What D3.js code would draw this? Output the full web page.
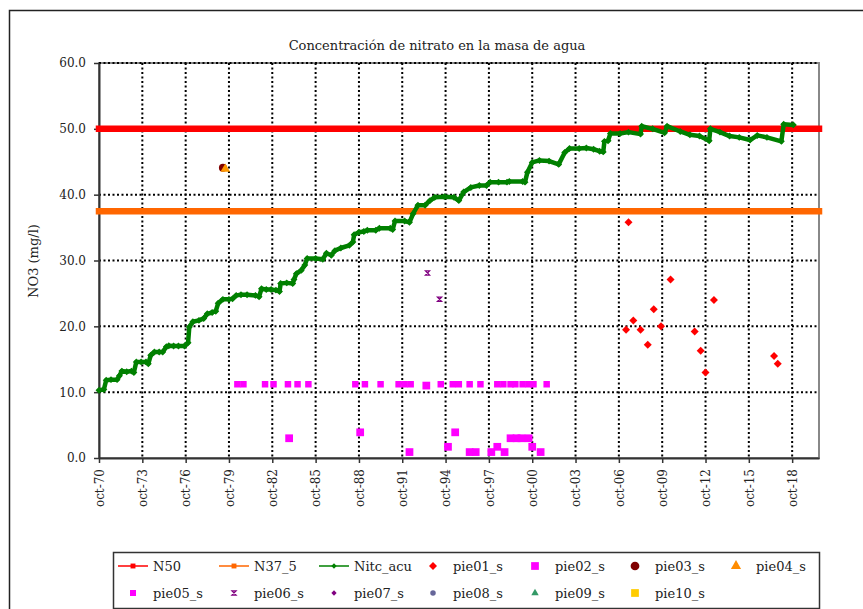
<html>
<head>
  <meta charset="utf-8">
  <title>Concentración de nitrato en la masa de agua</title>
  <script src="https://cdn.jsdelivr.net/npm/d3@7"></script>
  <style>
    body { margin: 0; background: #fff; }
    text { font-family: "DejaVu Serif", serif; fill: #222; }
  </style>
</head>
<body>
<script>

// ---- data ----
var nitcDates = ["1970-10","1971-02","1971-04","1971-08","1972-01","1972-03","1972-05","1972-09","1973-01","1973-03",
  "1973-05","1973-09","1974-01","1974-03","1974-05","1974-08","1974-12","1975-03","1975-06","1975-08",
  "1975-12","1976-04","1976-09","1976-12","1977-01","1977-04","1977-09","1978-01","1978-04","1978-08",
  "1978-11","1979-01","1979-05","1979-10","1980-01","1980-04","1980-08","1981-01","1981-08","1981-11",
  "1982-01","1982-05","1982-09","1983-01","1983-04","1983-05","1983-10","1984-03","1984-04","1984-06",
  "1984-10","1985-01","1985-03","1985-10","1986-04","1986-07","1986-11","1987-02","1987-07","1988-02",
  "1988-05","1988-06","1988-10","1989-02","1989-05","1989-12","1990-03","1990-12","1991-02","1991-04",
  "1991-12","1992-04","1992-07","1992-11","1993-05","1993-09","1994-01","1994-09","1995-05","1995-09",
  "1996-01","1996-07","1997-02","1997-08","1997-11","1998-06","1999-01","1999-03","2000-02","2000-04",
  "2000-06","2000-10","2001-04","2001-12","2002-08","2003-01","2003-05","2004-01","2004-07","2005-01",
  "2005-06","2005-09","2005-10","2006-01","2006-03","2006-11","2007-06","2008-04","2008-05","2009-02",
  "2009-12","2010-02","2011-01","2011-09","2012-05","2013-01","2013-02","2013-10","2014-06","2015-02",
  "2015-11","2016-05","2017-01","2018-01","2018-03","2018-11"];
var nitcValues = [10.3,10.4,11.8,11.9,11.9,12.5,13.2,13.1,13.2,13.0,
  14.6,14.6,14.6,14.3,15.6,16.1,16.1,16.1,16.9,17.05,
  17.0,17.0,17.0,17.5,19.9,20.7,20.9,21.2,21.9,22.1,
  22.3,23.5,24.1,24.1,24.2,24.7,24.8,24.8,24.7,24.5,
  25.7,25.6,25.6,25.5,25.3,26.5,26.6,26.5,27.1,28.0,
  28.5,29.3,30.3,30.3,30.2,31.1,30.8,31.5,31.9,32.3,
  32.8,33.9,34.3,34.4,34.6,34.6,34.9,34.9,34.7,36.0,
  36.0,35.8,37.1,38.4,38.4,39.1,39.6,39.7,39.6,39.1,
  40.4,41.1,41.4,41.4,41.9,41.9,41.9,42.0,42.0,41.9,
  43.4,44.9,45.2,45.1,44.6,46.4,47.0,47.0,47.1,46.9,
  46.6,46.5,48.1,48.2,49.3,49.3,49.5,49.2,50.4,50.0,
  49.4,50.4,49.6,49.1,48.9,48.2,50.0,49.5,48.9,48.7,
  48.3,49.0,48.7,48.1,50.7,50.6];

var n50Value = 50;
var n37Value = 37.5;

var pie01Dates = ["2007-04","2007-06","2007-10","2008-04","2008-10","2009-03","2009-09","2010-05","2012-01","2012-06","2012-10","2013-05","2017-07","2017-10"];
var pie01Values = [19.5,35.8,20.9,19.5,17.2,22.6,20.0,27.1,19.2,16.3,13.0,24.0,15.5,14.3];

var pie02Dates = ["1983-12","1988-11","1992-04","1993-06","1994-12","1995-06","1996-06","1996-11","1997-12","1998-05","1998-11","1999-04","1999-09","2000-01","2000-07","2000-10","2001-05"];
var pie02Values = [3.0,3.9,0.9,11.0,1.7,3.9,0.9,0.9,0.9,1.7,0.9,3.0,3.0,3.0,3.0,1.7,0.9];

var pie03Dates = ["1979-05"];
var pie03Values = [44.1];
var pie04Dates = ["1979-07"];
var pie04Values = [43.9];

var pie05Dates = ["1980-05","1980-10","1982-04","1982-11","1983-11","1984-07","1985-04","1988-07","1989-03","1990-04",
  "1991-07","1991-12","1992-05","1994-06","1995-04","1995-09","1996-06","1997-03","1998-05","1998-10",
  "1999-04","1999-08","2000-02","2000-07","2000-11","2001-10"];
var pie05Values = [11.2,11.2,11.2,11.2,11.2,11.2,11.2,11.2,11.2,11.2,
  11.2,11.2,11.2,11.2,11.2,11.2,11.2,11.2,11.2,11.2,
  11.2,11.2,11.2,11.2,11.2,11.2];

var pie06Dates = ["1993-07","1994-05"];
var pie06Values = [28.1,24.1];

var tickYears = [1970,1973,1976,1979,1982,1985,1988,1991,1994,1997,2000,2003,2006,2009,2012,2015,2018];
var yTicks = [0,10,20,30,40,50,60];

var legendNames = ["N50","N37_5","Nitc_acu","pie01_s","pie02_s","pie03_s","pie04_s",
                   "pie05_s","pie06_s","pie07_s","pie08_s","pie09_s","pie10_s"];

// ---- layout ----
var width = 863,
    height = 609;
var plot = {left: 99, right: 819, top: 63, bottom: 458};

var parse = d3.timeParse("%Y-%m");
function pairs(dates, values) {
  return dates.map(function(d, i) { return {date: parse(d), v: values[i]}; });
}

var x = d3.scaleTime()
    .domain([new Date(1970, 9, 1), new Date(2020, 7, 10)])
    .range([plot.left, plot.right]);
var y = d3.scaleLinear()
    .domain([0, 60])
    .range([plot.bottom, plot.top]);

var tickDates = tickYears.map(function(yr) { return new Date(yr, 9, 1); });

var svg = d3.select('body')
  .append('svg')
  .attr('width', width)
  .attr('height', height);

// outer frame
svg.append('rect')
  .attr('x', 9.5).attr('y', 10.5)
  .attr('width', 870).attr('height', 620)
  .attr('fill', 'none')
  .attr('stroke', '#222')
  .attr('stroke-width', 1.5);

// title
svg.append('text')
  .attr('x', 437).attr('y', 50)
  .attr('text-anchor', 'middle')
  .attr('font-size', 13)
  .text('Concentración de nitrato en la masa de agua');

// y label
svg.append('text')
  .attr('transform', 'translate(33,261) rotate(-90)')
  .attr('text-anchor', 'middle')
  .attr('dy', '0.35em')
  .attr('font-size', 13)
  .text('NO3 (mg/l)');

// plot border (grey top / right)
svg.append('rect')
  .attr('x', plot.left).attr('y', plot.top)
  .attr('width', plot.right - plot.left).attr('height', plot.bottom - plot.top)
  .attr('fill', 'none')
  .attr('stroke', '#888')
  .attr('stroke-width', 2);

// grid
svg.selectAll('.hgrid')
  .data(yTicks.filter(function(d) { return d > 0; }))
  .enter().append('line')
  .attr('x1', plot.left).attr('x2', plot.right)
  .attr('y1', function(d) { return y(d); })
  .attr('y2', function(d) { return y(d); })
  .attr('stroke', '#000')
  .attr('stroke-width', 2)
  .attr('stroke-dasharray', '2,2.5');

svg.selectAll('.vgrid')
  .data(tickDates.slice(1))
  .enter().append('line')
  .attr('x1', function(d) { return x(d); })
  .attr('x2', function(d) { return x(d); })
  .attr('y1', plot.top).attr('y2', plot.bottom)
  .attr('stroke', '#000')
  .attr('stroke-width', 2)
  .attr('stroke-dasharray', '2,2.5');

// axes
var xAxis = svg.append('g')
  .attr('transform', 'translate(0,' + plot.bottom + ')')
  .call(d3.axisBottom(x).tickValues(tickDates).tickSize(5).tickSizeOuter(0)
    .tickFormat(function(d) { return 'oct-' + d3.timeFormat('%y')(d); }));
xAxis.selectAll('text')
  .attr('font-family', '"DejaVu Serif", serif')
  .attr('font-size', 12)
  .attr('transform', 'rotate(-90)')
  .attr('text-anchor', 'end')
  .attr('x', -11)
  .attr('y', 0)
  .attr('dy', '0.35em');

var yAxis = svg.append('g')
  .attr('transform', 'translate(' + plot.left + ',0)')
  .call(d3.axisLeft(y).tickValues(yTicks).tickSize(5).tickSizeOuter(0).tickPadding(8)
    .tickFormat(d3.format('.1f')));
yAxis.selectAll('text')
  .attr('font-family', '"DejaVu Serif", serif')
  .attr('font-size', 12);

[xAxis, yAxis].forEach(function(a) {
  a.select('.domain').attr('stroke', '#333').attr('stroke-width', 2);
  a.selectAll('.tick line').attr('stroke', '#333').attr('stroke-width', 1.5);
});

// marker helper
function markerPath(kind, size) {
  if (kind == 'diamond') return d3.symbol(d3.symbolSquare, size)();
  if (kind == 'square') return d3.symbol(d3.symbolSquare, size)();
  if (kind == 'circle') return d3.symbol(d3.symbolCircle, size)();
  if (kind == 'triangle') return d3.symbol(d3.symbolTriangle, size)();
  var h = Math.sqrt(size) / 2;
  return 'M' + (-h) + ',' + (-h) + 'L' + h + ',' + (-h) + 'L' + (-h) + ',' + h + 'L' + h + ',' + h + 'Z';
}

function drawPoints(data, kind, color, size) {
  svg.append('g').selectAll('path')
    .data(data)
    .enter().append('path')
    .attr('d', markerPath(kind, size))
    .attr('transform', function(d) {
      return 'translate(' + x(d.date) + ',' + y(d.v) + ')' + (kind == 'diamond' ? ' rotate(45)' : '');
    })
    .attr('fill', kind == 'hourglass' ? 'none' : color)
    .attr('stroke', kind == 'hourglass' ? color : 'none')
    .attr('stroke-width', 1.2);
}

// threshold lines
var xEnds = x.domain();
[[n50Value, '#ff0000'], [n37Value, '#ff6600']].forEach(function(s) {
  svg.append('line')
    .attr('x1', x(xEnds[0])).attr('x2', x(xEnds[1]))
    .attr('y1', y(s[0])).attr('y2', y(s[0]))
    .attr('stroke', s[1])
    .attr('stroke-width', 6.5)
    .attr('stroke-linecap', 'square');
});

// Nitc_acu
var nitc = pairs(nitcDates, nitcValues);
svg.append('path')
  .datum(nitc)
  .attr('d', d3.line().x(function(d) { return x(d.date); }).y(function(d) { return y(d.v); }))
  .attr('fill', 'none')
  .attr('stroke', '#008000')
  .attr('stroke-width', 4.5)
  .attr('stroke-linejoin', 'round');
drawPoints(nitc, 'diamond', '#008000', 24);

// sample points
drawPoints(pairs(pie05Dates, pie05Values), 'square', '#ff00ff', 42);
drawPoints(pairs(pie02Dates, pie02Values), 'square', '#ff00ff', 60);
drawPoints(pairs(pie01Dates, pie01Values), 'diamond', '#ff0000', 32);
drawPoints(pairs(pie03Dates, pie03Values), 'circle', '#800000', 50);
drawPoints(pairs(pie04Dates, pie04Values), 'triangle', '#ff9900', 40);
drawPoints(pairs(pie06Dates, pie06Values), 'hourglass', '#800080', 18);

// legend
svg.append('rect')
  .attr('x', 113.5).attr('y', 552.5)
  .attr('width', 706).attr('height', 56)
  .attr('fill', '#fff')
  .attr('stroke', '#333')
  .attr('stroke-width', 1.5);

var legendCols = [118, 219, 319, 418, 520, 620, 721];
var legendRows = [566, 593];
var legendStyle = [
  {line: true, kind: 'square', color: '#ff0000', size: 24},
  {line: true, kind: 'square', color: '#ff6600', size: 24},
  {line: true, kind: 'diamond', color: '#008000', size: 14},
  {kind: 'diamond', color: '#ff0000', size: 32},
  {kind: 'square', color: '#ff00ff', size: 60},
  {kind: 'circle', color: '#800000', size: 60},
  {kind: 'triangle', color: '#ff8c00', size: 45},
  {kind: 'square', color: '#ff00ff', size: 36},
  {kind: 'hourglass', color: '#800080', size: 18},
  {kind: 'diamond', color: '#800080', size: 14},
  {kind: 'circle', color: '#666699', size: 24},
  {kind: 'triangle', color: '#339966', size: 24},
  {kind: 'square', color: '#ffcc00', size: 60}
];

var leg = svg.selectAll('.leg')
  .data(legendNames)
  .enter().append('g')
  .attr('transform', function(d, i) {
    return 'translate(' + legendCols[i % 7] + ',' + legendRows[Math.floor(i / 7)] + ')';
  });

leg.each(function(d, i) {
  var s = legendStyle[i];
  var g = d3.select(this);
  if (s.line) {
    g.append('line')
      .attr('x1', 0).attr('x2', 30)
      .attr('stroke', s.color)
      .attr('stroke-width', 1.5);
  }
  g.append('path')
    .attr('d', markerPath(s.kind, s.size))
    .attr('transform', 'translate(15,0)' + (s.kind == 'diamond' ? ' rotate(45)' : ''))
    .attr('fill', s.kind == 'hourglass' ? 'none' : s.color)
    .attr('stroke', s.kind == 'hourglass' ? s.color : 'none')
    .attr('stroke-width', 1.2);
  g.append('text')
    .attr('x', 35)
    .attr('dy', '0.35em')
    .attr('font-size', 13)
    .text(d);
});

</script>
</body>
</html>
